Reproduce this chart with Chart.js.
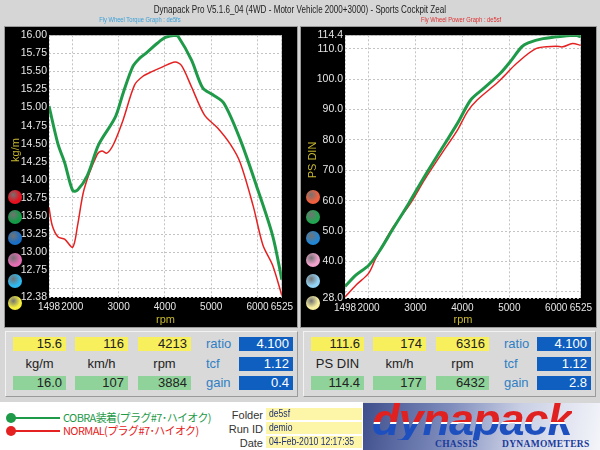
<!DOCTYPE html>
<html>
<head>
<meta charset="utf-8">
<script src="https://cdn.jsdelivr.net/npm/chart.js@4"></script>
<style>
  body { margin: 0; width: 600px; height: 450px; background: #d6d6d6; position: relative; overflow: hidden;
         font-family: "Liberation Sans", Arial, sans-serif; }
  .abs { position: absolute; }
  .narrow { display: inline-block; transform: scaleX(0.77); white-space: nowrap; }
  #title { left: 0; width: 600px; top: 3px; text-align: center; font-size: 10.5px; color: #222; }
  .sub { top: 15px; font-size: 7.5px; text-align: center; }
  .panel { background: #000; box-shadow: 0 0 0 1px #999; }
  .dot { width: 14px; height: 14px; border-radius: 50%; margin: -7px 0 0 -7px; z-index: 2; }
  .ytitle { color: #c8b830; font-size: 11px; transform: translate(-50%, -50%) rotate(-90deg); white-space: nowrap; z-index: 2; }
  .info { background: #d9d9d9; border: 1px solid; border-color: #f2f2f2 #9a9a9a #9a9a9a #f2f2f2; width: 291px; height: 64px; }
  .box { height: 14px; line-height: 14px; font-size: 13px; text-align: right; padding-right: 4px; box-sizing: border-box; color: #222; }
  .yel { background: #f8ef5c; }
  .grn { background: #8fd39a; }
  .blu { background: #0f5fc0; color: #fff; }
  .lbl { font-size: 13px; line-height: 14px; color: #222; text-align: center; }
  .blbl { font-size: 13px; line-height: 14px; color: #2f7fc4; }
  #strip { left: 0; top: 402px; width: 363px; height: 48px; background: #fff; }
  .leg { font-family: "Noto Sans CJK JP", sans-serif; font-size: 11px; line-height: 13px; letter-spacing: -0.6px; }
  .meta { font-size: 11px; line-height: 12px; color: #333; text-align: right; width: 60px; }
  .fld { background: #fdf6a8; font-size: 10px; line-height: 12px; color: #203070; padding-left: 3px; width: 93px; height: 12px;
         white-space: nowrap; overflow: hidden; }
  .fld span { display: inline-block; transform: scaleX(0.86); transform-origin: left center; }
  #logo { left: 363px; top: 403px; width: 237px; height: 47px;
          background: linear-gradient(100deg, #3f4f8c 0%, #7c8abb 35%, #c9cfe4 65%, #f4f5fa 100%); overflow: hidden; }
  #logoText { left: 9px; top: -3px; font: italic bold 45px "Liberation Sans", Arial, sans-serif; line-height: 40px; letter-spacing: -1px;
              background: linear-gradient(to bottom, #e12020 0%, #e12020 55%, #ffffff 55%, #ffffff 61%, #1d4fbf 61%, #1d4fbf 100%);
              -webkit-background-clip: text; background-clip: text; color: transparent; }
  .logoSub { top: 36px; font: bold 9.5px "Liberation Serif", serif; line-height: 11px; color: #1a3a9a; letter-spacing: 0.3px; z-index: 2; }
</style>
</head>
<body>
<div id="title" class="abs"><span class="narrow">Dynapack Pro V5.1.6_04 (4WD - Motor Vehicle 2000+3000) - Sports Cockpit Zeal</span></div>
<div class="abs sub" style="left:40px;width:200px;color:#3aa0d8;"><span class="narrow">Fly Wheel Torque Graph : de5fs</span></div>
<div class="abs sub" style="left:361px;width:200px;color:#e03030;"><span class="narrow">Fly Wheel Power Graph : de5sf</span></div>

<div class="abs panel" style="left:5px;top:27px;width:292px;height:300px;"><canvas id="torqueChart" width="292" height="300"></canvas></div>
<div class="abs panel" style="left:301px;top:27px;width:295px;height:300px;"><canvas id="powerChart" width="295" height="300"></canvas></div>

<div class="abs ytitle" style="left:15px;top:150px;">kg/m</div>
<div class="abs ytitle" style="left:312px;top:160px;">PS DIN</div>
<div id="dots"></div>

<div class="abs info" style="left:5px;top:331px;" id="infoL"></div>
<div class="abs info" style="left:303px;top:331px;" id="infoR"></div>

<div id="strip" class="abs"></div>
<div class="abs" style="left:6px;top:413px;width:10px;height:10px;border-radius:50%;background:#1e9a48;"></div>
<div class="abs" style="left:12px;top:417px;width:48px;height:2px;background:#1e9a48;"></div>
<div class="abs leg" style="left:63px;top:411px;color:#1e9a48;">COBRA装着(プラグ#7･ハイオク)</div>
<div class="abs" style="left:6px;top:426px;width:10px;height:10px;border-radius:50%;background:#e52222;"></div>
<div class="abs" style="left:12px;top:430px;width:48px;height:2px;background:#e52222;"></div>
<div class="abs leg" style="left:63px;top:424px;color:#e52222;">NORMAL(プラグ#7･ハイオク)</div>

<div class="abs meta" style="left:203px;top:409px;">Folder</div>
<div class="abs fld" style="left:266px;top:408px;"><span>de5sf</span></div>
<div class="abs meta" style="left:203px;top:423px;">Run ID</div>
<div class="abs fld" style="left:266px;top:422px;"><span>demio</span></div>
<div class="abs meta" style="left:203px;top:437px;">Date</div>
<div class="abs fld" style="left:266px;top:436px;"><span>04-Feb-2010 12:17:35</span></div>

<div id="logo" class="abs">
  <div id="logoText" class="abs">dynapack</div>
  <div class="abs logoSub" style="left:72px;">CHASSIS</div>
  <div class="abs logoSub" style="left:139px;">DYNAMOMETERS</div>
</div>

<script>
// axis ticks
const rpmTicks = [1498, 2000, 3000, 4000, 5000, 6000, 6525];
const torqueTicks = [12.38, 12.5, 12.75, 13, 13.25, 13.5, 13.75, 14, 14.25, 14.5, 14.75, 15, 15.25, 15.5, 15.75, 16];
const powerTicks = [28, 30, 40, 50, 60, 70, 80, 90, 100, 110, 114.4];

// torque (kg/m)
const torqueCobraRpm = [1498, 1694, 1835, 2010, 2115, 2325, 2572, 2923, 3098, 3309, 3450, 3589, 3835, 4010, 4220, 4290, 4572, 4818, 5028, 5273, 5624, 5976, 6325, 6525];
const torqueCobra = [15.02, 14.49, 14.24, 13.85, 13.86, 14.06, 14.49, 14.86, 15.2, 15.57, 15.68, 15.75, 15.89, 15.97, 16.0, 15.98, 15.66, 15.27, 15.18, 15.06, 14.56, 13.92, 13.23, 12.62];
const torqueNormalRpm = [1498, 1568, 1694, 1835, 2010, 2115, 2256, 2536, 2641, 2746, 2888, 3098, 3344, 3519, 3730, 3940, 4220, 4360, 4572, 4852, 5134, 5414, 5624, 5905, 6115, 6325, 6525];
const torqueNormal = [13.62, 13.37, 13.21, 13.18, 13.07, 13.37, 13.87, 14.35, 14.4, 14.37, 14.49, 14.83, 15.31, 15.43, 15.5, 15.56, 15.63, 15.58, 15.29, 14.9, 14.72, 14.49, 14.24, 13.64, 13.1, 12.82, 12.4];

// power (PS DIN)
const powerCobraRpm = [1498, 1735, 2000, 2222, 2502, 2852, 3202, 3551, 3901, 4180, 4459, 4808, 5018, 5263, 5403, 5718, 6137, 6416, 6525];
const powerCobra = [31.8, 35.6, 38.7, 43.2, 50.3, 59.0, 68.2, 76.9, 85.6, 93.2, 97.0, 101.9, 105.7, 110.6, 111.9, 113.3, 114.1, 114.4, 113.9];
const powerNormalRpm = [1498, 1735, 2000, 2153, 2502, 2887, 3202, 3551, 3901, 4111, 4320, 4739, 4878, 5158, 5578, 5997, 6137, 6347, 6525];
const powerNormal = [28.3, 32.3, 36.1, 41.0, 50.8, 59.0, 67.1, 75.3, 83.4, 89.4, 93.2, 98.7, 100.8, 105.2, 110.1, 110.8, 110.6, 111.7, 111.1];

// readouts
const torqueMax = ["15.6", "116", "4213", "16.0", "107", "3884", "4.100", "1.12", "0.4"];
const powerMax = ["111.6", "174", "6316", "114.4", "177", "6432", "4.100", "1.12", "2.8"];

const dotColorsL = ["#e8101e", "#139a46", "#1a6fc6", "#e36db2", "#2fb9f0", "#f6ee3e"];
const dotColorsR = ["#f0603e", "#22a552", "#2386d4", "#f0a2cc", "#92d2f4", "#f8f0a0"];
const dotY = [197, 217, 238, 260, 281, 303];

const dots = document.getElementById("dots");
dotY.forEach((y, i) => {
  [[15, dotColorsL[i]], [313, dotColorsR[i]]].forEach(([x, c]) => {
    const d = document.createElement("div");
    d.className = "abs dot";
    d.style.left = x + "px";
    d.style.top = y + "px";
    d.style.background = `radial-gradient(circle at 38% 35%, rgba(255,255,255,0.45), ${c} 55%)`;
    dots.appendChild(d);
  });
});

function fillInfo(id, vals, unit) {
  const el = document.getElementById(id);
  const cols = [7, 69, 132];
  const units = [unit, "km/h", "rpm"];
  let html = "";
  cols.forEach((x, i) => {
    html += `<div class="abs box yel" style="left:${x}px;top:5px;width:53px;">${vals[i]}</div>`;
    html += `<div class="abs lbl" style="left:${x}px;top:25px;width:53px;">${units[i]}</div>`;
    html += `<div class="abs box grn" style="left:${x}px;top:44px;width:53px;">${vals[i + 3]}</div>`;
  });
  ["ratio", "tcf", "gain"].forEach((t, i) => {
    html += `<div class="abs blbl" style="left:200px;top:${5 + i * 19.5}px;">${t}</div>`;
    html += `<div class="abs box blu" style="left:233px;top:${5 + i * 19.5}px;width:54px;">${vals[6 + i]}</div>`;
  });
  el.innerHTML = html;
}
fillInfo("infoL", torqueMax, "kg/m");
fillInfo("infoR", powerMax, "PS DIN");

// black canvas, white plot area
const panelBg = {
  id: "panelBg",
  beforeDraw(chart) {
    const { ctx, chartArea: a } = chart;
    ctx.save();
    ctx.fillStyle = "#000";
    ctx.fillRect(0, 0, chart.width, chart.height);
    ctx.fillStyle = "#fff";
    ctx.fillRect(a.left, a.top, a.right - a.left, a.bottom - a.top);
    ctx.restore();
  }
};

const toXY = (xs, ys) => xs.map((x, i) => ({ x: x, y: ys[i] }));

function makeChart(id, cobra, normal, yTicks, yFmt, hide, rightPad, xHeight) {
  return new Chart(document.getElementById(id), {
    type: "line",
    data: {
      datasets: [
        { data: cobra, borderColor: "#1e9a48", borderWidth: 3, pointRadius: 0, tension: 0.3 },
        { data: normal, borderColor: "#e52222", borderWidth: 1.5, pointRadius: 0, tension: 0.3 }
      ]
    },
    options: {
      responsive: false,
      animation: false,
      layout: { padding: { top: 6, right: rightPad, left: 0, bottom: 0 } },
      plugins: { legend: { display: false }, tooltip: { enabled: false } },
      scales: {
        x: {
          type: "linear",
          min: rpmTicks[0],
          max: rpmTicks[rpmTicks.length - 1],
          afterBuildTicks: (s) => { s.ticks = rpmTicks.map((v) => ({ value: v })); },
          afterFit: (s) => { s.height = xHeight; },
          ticks: { color: "#e6e6e6", font: { size: 10 }, padding: 4, maxRotation: 0, autoSkip: false,
                   callback: (v) => String(v) },
          grid: { color: "#c4c4c4", drawTicks: false },
          border: { display: false, dash: [2, 2] },
          title: { display: true, text: "rpm", color: "#c8b830", font: { size: 11 }, padding: { top: 0, bottom: 0 } }
        },
        y: {
          min: yTicks[0],
          max: yTicks[yTicks.length - 1],
          afterBuildTicks: (s) => { s.ticks = yTicks.map((v) => ({ value: v })); },
          afterFit: (s) => { s.width = 44; },
          ticks: { color: "#e6e6e6", font: { size: 10.5 }, padding: 2, autoSkip: false,
                   callback: (v) => (v === hide ? "" : v.toFixed(yFmt)) },
          grid: { color: "#c4c4c4", drawTicks: false },
          border: { display: false, dash: [2, 2] }
        }
      }
    },
    plugins: [panelBg]
  });
}

makeChart("torqueChart", toXY(torqueCobraRpm, torqueCobra), toXY(torqueNormalRpm, torqueNormal), torqueTicks, 2, 12.5, 7, 30);
makeChart("powerChart", toXY(powerCobraRpm, powerCobra), toXY(powerNormalRpm, powerNormal), powerTicks, 1, 30, 6, 29);
</script>
</body>
</html>
